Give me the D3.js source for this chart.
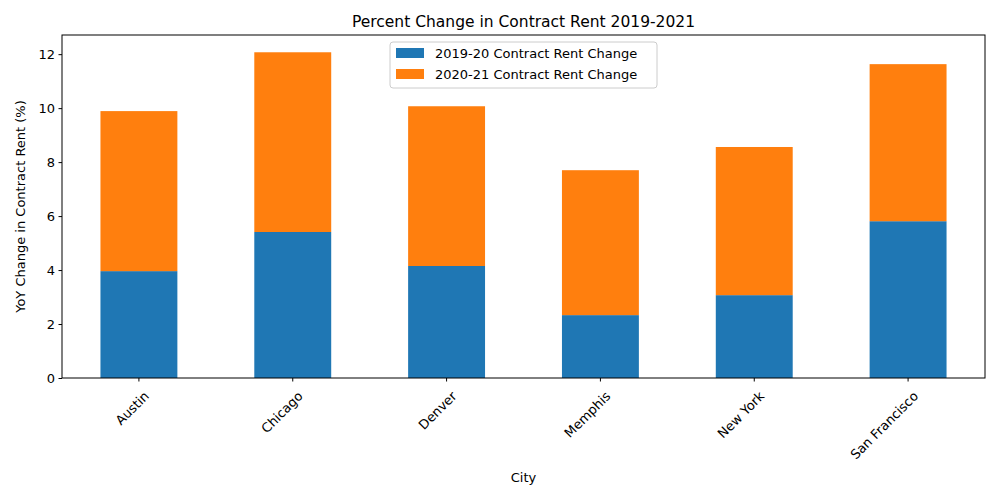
<!DOCTYPE html>
<html>
<head>
<meta charset="utf-8">
<script src="https://cdn.jsdelivr.net/npm/d3@7"></script>
<style>
  body { margin: 0; background: #fff; }
  text { font-family: "DejaVu Sans", sans-serif; }
</style>
</head>
<body>
<svg id="chart" width="1000" height="500"></svg>
<script>
// Data
var cities = ["Austin", "Chicago", "Denver", "Memphis", "New York", "San Francisco"];
var change1920 = [3.96, 5.41, 4.15, 2.33, 3.07, 5.81];
var change2021 = [5.93, 6.66, 5.92, 5.37, 5.49, 5.82];
var seriesNames = ["2019-20 Contract Rent Change", "2020-21 Contract Rent Change"];
var colors = ["#1f77b4", "#ff7f0e"];
var yTicks = [0, 2, 4, 6, 8, 10, 12];

var svg = d3.select("#chart");
var plotLeft = 62, plotRight = 985, plotTop = 35, plotBottom = 378;

var x = d3.scaleBand().domain(cities).range([plotLeft, plotRight]).paddingInner(0.5).paddingOuter(0.25);
var y = d3.scaleLinear().domain([0, 12.71]).range([plotBottom, plotTop]);

// Bars
var rows = cities.map((c, i) => ({ city: c, a: change1920[i], b: change2021[i] }));
svg.selectAll(".barA").data(rows).enter().append("rect")
  .attr("x", d => x(d.city)).attr("width", x.bandwidth())
  .attr("y", d => y(d.a)).attr("height", d => y(0) - y(d.a))
  .attr("fill", colors[0]);
svg.selectAll(".barB").data(rows).enter().append("rect")
  .attr("x", d => x(d.city)).attr("width", x.bandwidth())
  .attr("y", d => y(d.a + d.b)).attr("height", d => y(d.a) - y(d.a + d.b))
  .attr("fill", colors[1]);

// Axes
var yAxis = svg.append("g").attr("transform", `translate(${plotLeft},0)`)
  .call(d3.axisLeft(y).tickValues(yTicks).tickSize(3.5).tickPadding(3.5));
var xAxis = svg.append("g").attr("transform", `translate(0,${plotBottom})`)
  .call(d3.axisBottom(x).tickSize(3.5).tickPadding(3.5));
[xAxis, yAxis].forEach(g => {
  g.select(".domain").remove();
  g.selectAll("text").attr("font-size", 13).attr("fill", "#000").attr("font-family", "DejaVu Sans");
  g.selectAll("line").attr("stroke", "#000");
});
xAxis.selectAll("text")
  .attr("text-anchor", "end").attr("dx", "0").attr("dy", "0")
  .attr("transform", "translate(6,14) rotate(-45)");

// Frame
svg.append("rect").attr("x", plotLeft).attr("y", plotTop)
  .attr("width", plotRight - plotLeft).attr("height", plotBottom - plotTop)
  .attr("fill", "none").attr("stroke", "#000").attr("stroke-width", 1);

// Titles
svg.append("text").attr("x", (plotLeft + plotRight) / 2).attr("y", 27)
  .attr("text-anchor", "middle").attr("font-size", 15.5).text("Percent Change in Contract Rent 2019-2021");
svg.append("text").attr("x", (plotLeft + plotRight) / 2).attr("y", 482)
  .attr("text-anchor", "middle").attr("font-size", 13).text("City");
svg.append("text").attr("transform", `translate(25,${(plotTop + plotBottom) / 2}) rotate(-90)`)
  .attr("text-anchor", "middle").attr("font-size", 13).text("YoY Change in Contract Rent (%)");

// Legend
var lg = svg.append("g").attr("transform", "translate(390,42)");
lg.append("rect").attr("width", 267).attr("height", 46).attr("rx", 3)
  .attr("fill", "#fff").attr("fill-opacity", 0.8).attr("stroke", "#ccc");
seriesNames.forEach((n, i) => {
  lg.append("rect").attr("x", 6).attr("y", 6 + i * 21).attr("width", 28).attr("height", 10).attr("fill", colors[i]);
  lg.append("text").attr("x", 45).attr("y", 16 + i * 21).attr("font-size", 13).text(n);
});
</script>
</body>
</html>
